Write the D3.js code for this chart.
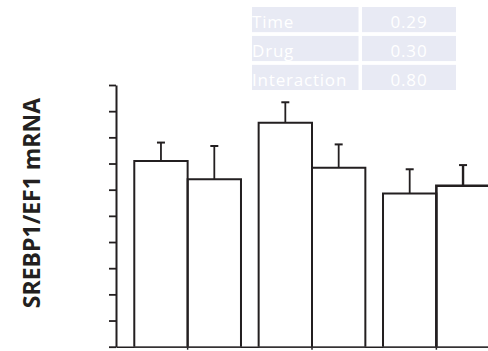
<!DOCTYPE html>
<html>
<head>
<meta charset="utf-8">
<script src="https://cdn.jsdelivr.net/npm/d3@7"></script>
<style>
  html, body { margin: 0; padding: 0; background: #fff; }
  svg { display: block; }
</style>
</head>
<body>
<div id="chart"></div>
<script>
// data
const groups = ['G1', 'G2', 'G3']
const series = ['A', 'B']
const means = [[0.71, 0.64], [0.856, 0.684], [0.585, 0.615]]
const errors = [[0.07, 0.127], [0.078, 0.089], [0.093, 0.079]]
const yTicks = [0, 0.1, 0.2, 0.3, 0.4, 0.5, 0.6, 0.7, 0.8, 0.9, 1.0]
const statLabels = ['Time', 'Drug', 'Interaction']
const statValues = ['0.29', '0.30', '0.80']

const width = 488
const height = 351
const margin = { left: 116, top: 85, bottom: 4.3 }
const ink = '#231f20'

const svg = d3.select('#chart').append('svg')
  .attr('width', width)
  .attr('height', height)

const y = d3.scaleLinear().domain([0, 1]).range([height - margin.bottom, margin.top])
const x0 = d3.scaleBand().domain(groups).range([margin.left, 508]).paddingInner(0.142).paddingOuter(0.147)
const x1 = d3.scaleBand().domain(series).range([0, x0.bandwidth()])

// x axis (dark baseline, small ticks at group centres)
const xAxis = svg.append('g')
  .attr('transform', `translate(0,${y(0)})`)
  .call(d3.axisBottom(x0).tickSize(3).tickSizeOuter(0).tickFormat(''))
xAxis.select('.domain').attr('stroke', ink).attr('stroke-width', 1.6)
xAxis.selectAll('.tick line').attr('stroke', ink).attr('stroke-width', 1.5)

// bars: open at the bottom
const flat = []
groups.forEach((g, i) => series.forEach((s, j) => flat.push({ g, s, v: means[i][j], e: errors[i][j] })))

const bars = svg.append('g')
bars.selectAll('rect.bg')
  .data(flat)
  .enter().append('rect')
  .attr('x', d => x0(d.g) + x1(d.s))
  .attr('y', d => y(d.v))
  .attr('width', x1.bandwidth())
  .attr('height', d => y(0) - y(d.v) - 1)
  .attr('fill', '#fff')

bars.selectAll('line.base')
  .data(flat)
  .enter().append('line')
  .attr('x1', d => x0(d.g) + x1(d.s))
  .attr('x2', d => x0(d.g) + x1(d.s) + x1.bandwidth())
  .attr('y1', y(0))
  .attr('y2', y(0))
  .attr('stroke', '#6d6b6c')
  .attr('stroke-width', 1.3)

bars.selectAll('path.bar')
  .data(flat)
  .enter().append('path')
  .attr('d', d => {
    const l = x0(d.g) + x1(d.s)
    const r = l + x1.bandwidth()
    return `M${l},${y(0)}V${y(d.v)}H${r}V${y(0)}`
  })
  .attr('fill', 'none')
  .attr('stroke', ink)
  .attr('stroke-width', (d, i) => i === 5 ? 2.6 : 2)

// error bars
const err = svg.append('g')
err.selectAll('line.stem')
  .data(flat)
  .enter().append('line')
  .attr('x1', d => x0(d.g) + x1(d.s) + x1.bandwidth() / 2)
  .attr('x2', d => x0(d.g) + x1(d.s) + x1.bandwidth() / 2)
  .attr('y1', d => y(d.v))
  .attr('y2', d => y(d.v + d.e))
  .attr('stroke', ink)
  .attr('stroke-width', (d, i) => i === 5 ? 2.4 : 1.8)
err.selectAll('line.cap')
  .data(flat)
  .enter().append('line')
  .attr('x1', d => x0(d.g) + x1(d.s) + x1.bandwidth() / 2 - 4)
  .attr('x2', d => x0(d.g) + x1(d.s) + x1.bandwidth() / 2 + 4)
  .attr('y1', d => y(d.v + d.e))
  .attr('y2', d => y(d.v + d.e))
  .attr('stroke', ink)
  .attr('stroke-width', 2)

// y axis, no labels
const yAxis = svg.append('g')
  .attr('transform', `translate(${margin.left},0)`)
  .call(d3.axisLeft(y).tickValues(yTicks).tickSize(7).tickSizeOuter(0).tickFormat(''))
yAxis.select('.domain').attr('stroke', ink).attr('stroke-width', 2)
yAxis.selectAll('.tick line').attr('stroke', ink).attr('stroke-width', 1.8)

svg.append('text')
  .attr('transform', 'translate(39.5,203) rotate(-90)')
  .attr('text-anchor', 'middle')
  .attr('font-family', 'Open Sans, sans-serif')
  .attr('font-weight', 'bold')
  .attr('font-size', 23)
  .attr('fill', ink)
  .text('SREBP1/EF1 mRNA')

// stats table
const rowY = d3.scaleBand().domain(statLabels).range([7, 90]).paddingInner(0.13)
const table = svg.append('g')
const rows = table.selectAll('g.row')
  .data(statLabels)
  .enter().append('g')
rows.append('rect')
  .attr('x', 252)
  .attr('y', d => rowY(d))
  .attr('width', 106.5)
  .attr('height', rowY.bandwidth())
  .attr('fill', '#e8eaf4')
rows.append('rect')
  .attr('x', 362)
  .attr('y', d => rowY(d))
  .attr('width', 94)
  .attr('height', rowY.bandwidth())
  .attr('fill', '#e8eaf4')
rows.append('text')
  .attr('x', 252)
  .attr('y', d => rowY(d) + rowY.bandwidth() - 4.5)
  .attr('font-family', 'Open Sans, sans-serif')
  .attr('font-size', 17)
  .attr('letter-spacing', 0.8)
  .attr('fill', '#fff')
  .text(d => d)
rows.append('text')
  .attr('x', 409)
  .attr('y', d => rowY(d) + rowY.bandwidth() - 4.5)
  .attr('text-anchor', 'middle')
  .attr('font-family', 'Open Sans, sans-serif')
  .attr('font-size', 17)
  .attr('letter-spacing', 0.8)
  .attr('fill', '#fff')
  .text((d, i) => statValues[i])
</script>
</body>
</html>
